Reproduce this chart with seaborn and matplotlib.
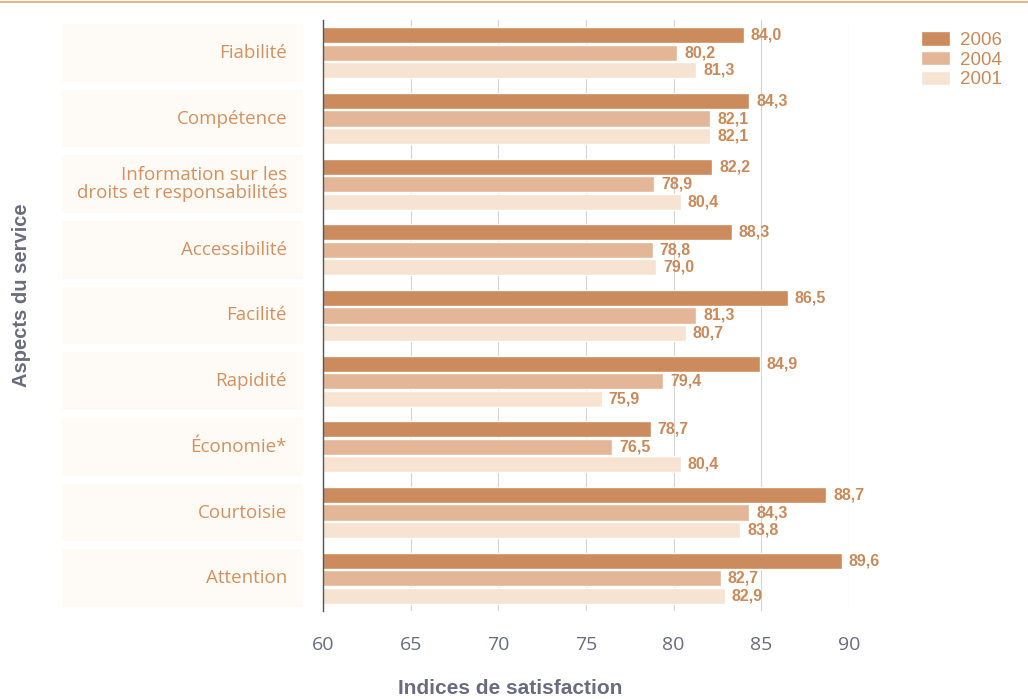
import matplotlib
matplotlib.use("Agg")
import matplotlib.pyplot as plt
import matplotlib.patches as mpatches
from matplotlib.lines import Line2D
import matplotlib.transforms as mtransforms
import seaborn as sns
import pandas as pd

categories = ["Fiabilité", "Compétence", "Information sur les\ndroits et responsabilités",
              "Accessibilité", "Facilité", "Rapidité", "Économie*", "Courtoisie", "Attention"]
years = ["2006", "2004", "2001"]
v2006 = [84.0, 84.3, 82.2, 83.3, 86.5, 84.9, 78.7, 88.7, 89.6]
v2004 = [80.2, 82.1, 78.9, 78.8, 81.3, 79.4, 76.5, 84.3, 82.7]
v2001 = [81.3, 82.1, 80.4, 79.0, 80.7, 75.9, 80.4, 83.8, 82.9]
# printed label differs from bar length in the original (Accessibilité 2006)
label_overrides = {(3, "2006"): "88,3"}
xticks = [60, 65, 70, 75, 80, 85, 90]

rows = []
for i, c in enumerate(categories):
    for y, vals in zip(years, [v2006, v2004, v2001]):
        rows.append({"cat": c, "year": y, "val": vals[i]})
df = pd.DataFrame(rows)

sns.set_style("white")
palette = {"2006": "#cc8b5c", "2004": "#e2b696", "2001": "#f7e3d2"}
label_col = "#c98a5a"
gray_text = "#6a6c7e"

fig = plt.figure(figsize=(10.28, 6.99), dpi=100)
ax = fig.add_axes([323/1028, 1-611/699, (849-323)/1028, (611-20)/699])

sns.barplot(data=df, y="cat", x="val", hue="year", hue_order=years, order=categories,
            palette=palette, orient="h", width=0.8, gap=0.08, ax=ax, legend=True,
            zorder=2, saturation=1)

ax.set_xlim(60, 90)
ax.set_ylim(8.5, -0.5)
ax.set_xticks(xticks)
ax.set_xticklabels([str(t) for t in xticks], fontsize=14, color=gray_text, family="Open Sans")
ax.tick_params(axis="x", length=0, pad=18)
ax.set_yticks([])
ax.set_xlabel("")
ax.set_ylabel("")
ax.grid(axis="x", color="#d4d4d4", lw=0.8, zorder=0)
ax.set_axisbelow(True)
for s in ["top", "right", "bottom"]:
    ax.spines[s].set_visible(False)
ax.spines["left"].set_color("#555555")
ax.spines["left"].set_linewidth(1.0)

# value labels
for cont, y in zip(ax.containers, years):
    labs = []
    for i, bar in enumerate(cont):
        w = bar.get_width()
        labs.append(label_overrides.get((i, y), f"{w:.1f}".replace(".", ",")))
    ax.bar_label(cont, labels=labs, padding=5, fontsize=11.5, fontweight="bold",
                 color=label_col, family="Liberation Sans")

# category labels with faint background bands
trans = mtransforms.blended_transform_factory(fig.transFigure, ax.transData)
for i, c in enumerate(categories):
    rect = mpatches.Rectangle((62/1028, i - 0.44), (303-62)/1028, 0.88, transform=trans,
                              facecolor="#fefaf6", edgecolor="none", zorder=0)
    fig.add_artist(rect)
    fig.text(287/1028, i, c, transform=trans, ha="right", va="center", fontsize=13.5,
             color="#d4915d", family="Open Sans", linespacing=1.0)

# legend
leg = ax.legend(loc="upper left", bbox_to_anchor=(912/1028, 1-22/699),
                bbox_transform=fig.transFigure, frameon=False, fontsize=13.5,
                borderpad=0, handlelength=1.55, handleheight=0.8, handletextpad=0.5,
                labelspacing=0.1)
for t in leg.get_texts():
    t.set_color(label_col)
    t.set_family("Liberation Sans")

# axis titles
fig.text(510/1028, 1-689/699, "Indices de satisfaction", ha="center", va="center",
         fontsize=15, fontweight="bold", color=gray_text, family="Liberation Sans")
fig.text(22/1028, 1-295/699, "Aspects du service", ha="center", va="center", rotation=90,
         fontsize=14.5, fontweight="bold", color=gray_text, family="Liberation Sans")

# top rule
fig.add_artist(Line2D([0, 1], [1-2/699, 1-2/699], transform=fig.transFigure,
                      color="#e6b58c", lw=1.5))

fig.savefig("out.png", dpi=100)
